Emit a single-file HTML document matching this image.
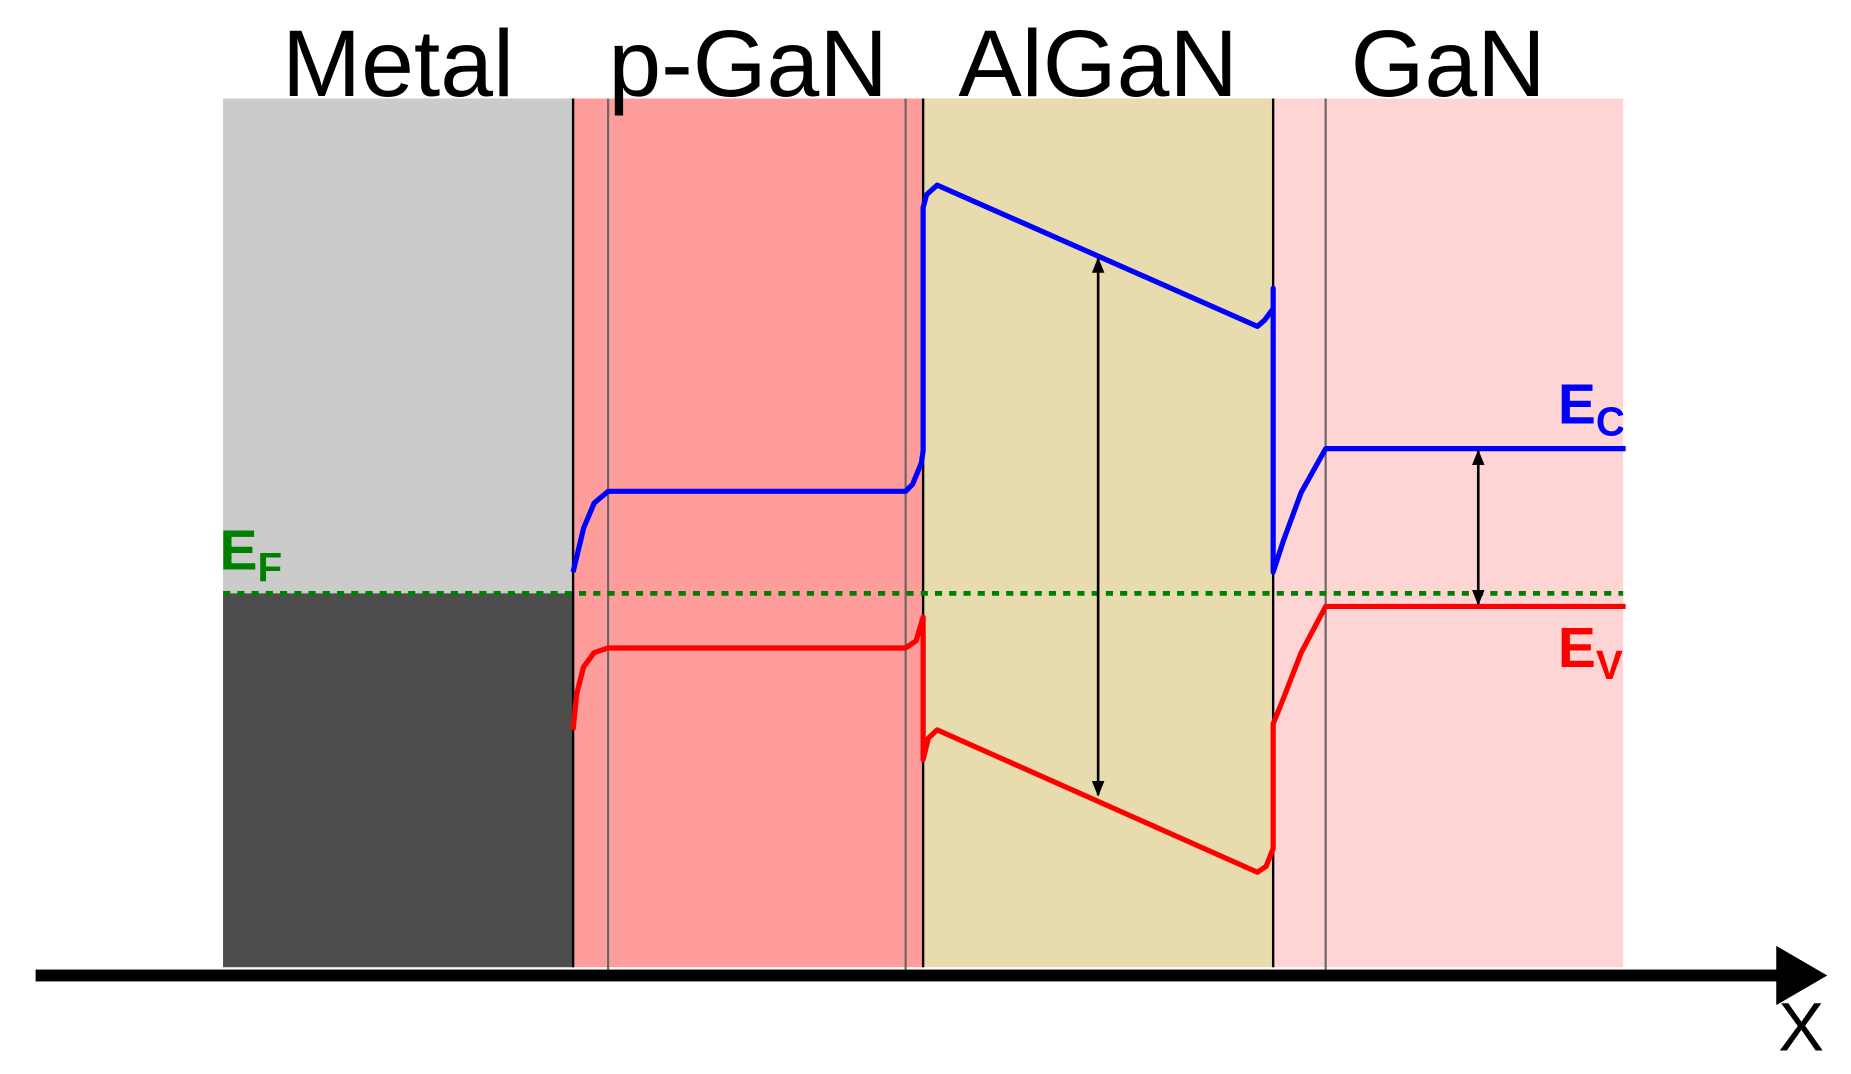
<!DOCTYPE html>
<html><head><meta charset="utf-8">
<style>
html,body{margin:0;padding:0;background:#fff;width:1851px;height:1074px;overflow:hidden}
svg{display:block}
text{font-family:"Liberation Sans",Arial,sans-serif}
</style></head>
<body>
<svg id="chart" width="1851" height="1074" viewBox="0 0 1560 905" preserveAspectRatio="none" xmlns="http://www.w3.org/2000/svg">
  <defs>
    <marker id="ah" viewBox="0 0 10 10" refX="9" refY="5" markerWidth="6" markerHeight="6" orient="auto-start-reverse">
      <path d="M0,1 L10,5 L0,9 z" fill="#000"/>
    </marker>
  </defs>
  <g id="layers"></g>
  <g id="bands"></g>
  <g id="labels"></g>
</svg>
<script>
// layer definitions (x in nm-like units, each layer 100 wide; metal drawn to the left)
const layerNames = ["Metal", "p-GaN", "AlGaN", "GaN"];
const layerStart = [-100, 0, 100, 200];
const layerEnd = [0, 100, 200, 300];
const layerColors = ["#cbcbcb", "#ff9d9d", "#e8dbae", "#ffd4d4"];
const innerLines = [10, 95, 215];
// band energies (eV relative to EF)
const ecX = [0, 3, 6, 10, 95, 97, 99.5, 100, 100, 101, 104, 195.5, 197.5, 200, 200, 200, 203, 208, 215, 300.7];
const ecE = [0.18, 0.55, 0.76, 0.86, 0.86, 0.92, 1.10, 1.20, 3.25, 3.36, 3.44, 2.25, 2.30, 2.40, 2.57, 0.18, 0.45, 0.85, 1.22, 1.22];
const evX = [0, 1, 3, 6, 10, 95, 98, 100, 100, 101.5, 104, 195.5, 198, 200, 200, 203, 208, 215, 300.7];
const evE = [-1.15, -0.85, -0.62, -0.50, -0.46, -0.46, -0.40, -0.20, -1.40, -1.22, -1.15, -2.35, -2.30, -2.15, -1.10, -0.88, -0.50, -0.11, -0.11];
const gapArrowX = [150, 258.6];
const gapArrowTop = [2.82, 1.20];
const gapArrowBot = [-1.70, -0.09];
const EF = 0;

const xS = d => 483 + d * 2.95;
const yS = e => 500 - e * 100;
const NS = "http://www.w3.org/2000/svg";
function mk(tag, parent, attrs) {
  const el = document.createElementNS(NS, tag);
  for (const k in attrs) el.setAttribute(k, attrs[k]);
  parent.appendChild(el);
  return el;
}
const gL = document.getElementById("layers");
const gB = document.getElementById("bands");
const gT = document.getElementById("labels");
const yTop = 83, yBot = 815;

layerNames.forEach((n, i) => {
  const r = mk("rect", gL, {x: xS(layerStart[i]), y: yTop, width: xS(layerEnd[i]) - xS(layerStart[i]), height: yBot - yTop, fill: layerColors[i]});
  
  
  const t = mk("text", gT, {x: (xS(layerStart[i]) + xS(layerEnd[i])) / 2, y: 81, "font-size": 80, "text-anchor": "middle", fill: "#000", "textLength": 0});
  t.removeAttribute("textLength");
  t.textContent = n;
  
  
});
const filled = mk("rect", gL, {x: xS(-100), y: yS(EF), width: xS(0) - xS(-100), height: yBot - yS(EF), fill: "#4d4d4d"});


[0, 100, 200].forEach(d => {
  const l = mk("line", gL, {x1: xS(d), x2: xS(d), y1: yTop, y2: yBot, stroke: "#000", "stroke-width": 2});
  
  
});
innerLines.forEach(d => {
  const l = mk("line", gL, {x1: xS(d), x2: xS(d), y1: yTop, y2: 822, stroke: "#666", "stroke-width": 1.8});
  
  
});
const ef = mk("line", gB, {x1: 188, x2: 1368, y1: yS(EF), y2: yS(EF), stroke: "#008000", "stroke-width": 4, "stroke-dasharray": "6 6"});


function poly(xs, es, color, name) {
  const p = mk("polyline", gB, {points: xs.map((x, i) => xS(x) + "," + yS(es[i])).join(" "), fill: "none", stroke: color, "stroke-width": 4.4, "stroke-linejoin": "round"});
  
  
}
poly(ecX, ecE, "#0000ff", "conduction-band-line");
poly(evX, evE, "#ff0000", "valence-band-line");
gapArrowX.forEach((x, i) => {
  const a = mk("line", gB, {x1: xS(x), x2: xS(x), y1: yS(gapArrowTop[i]), y2: yS(gapArrowBot[i]), stroke: "#000", "stroke-width": 2.2, "marker-start": "url(#ah)", "marker-end": "url(#ah)"});
  
  
});
</script>
<svg style="position:absolute;left:0;top:0" width="1851" height="1074" viewBox="0 0 1560 905" preserveAspectRatio="none" xmlns="http://www.w3.org/2000/svg">
  <defs><clipPath id="c2"><rect x="0" y="0" width="1368" height="905"/></clipPath></defs>
  <g clip-path="url(#c2)">
    <text x="1313" y="357" fill="#0000ff" font-size="48" font-weight="bold">E<tspan font-size="34" dy="10">C</tspan></text>
    <text x="1313" y="562" fill="#ff0000" font-size="48" font-weight="bold">E<tspan font-size="34" dy="10">V</tspan></text>
  </g>
  <text x="185" y="480" fill="#008000" font-size="48" font-weight="bold">E<tspan font-size="34" dy="10">F</tspan></text>
  <rect x="30" y="817" width="1475" height="10" fill="#000"/>
  <path d="M1497,797 L1540,822 L1497,847 z" fill="#000"/>
  <text x="1518" y="885" font-size="58" text-anchor="middle" fill="#000">X</text>
</svg>
</body></html>
